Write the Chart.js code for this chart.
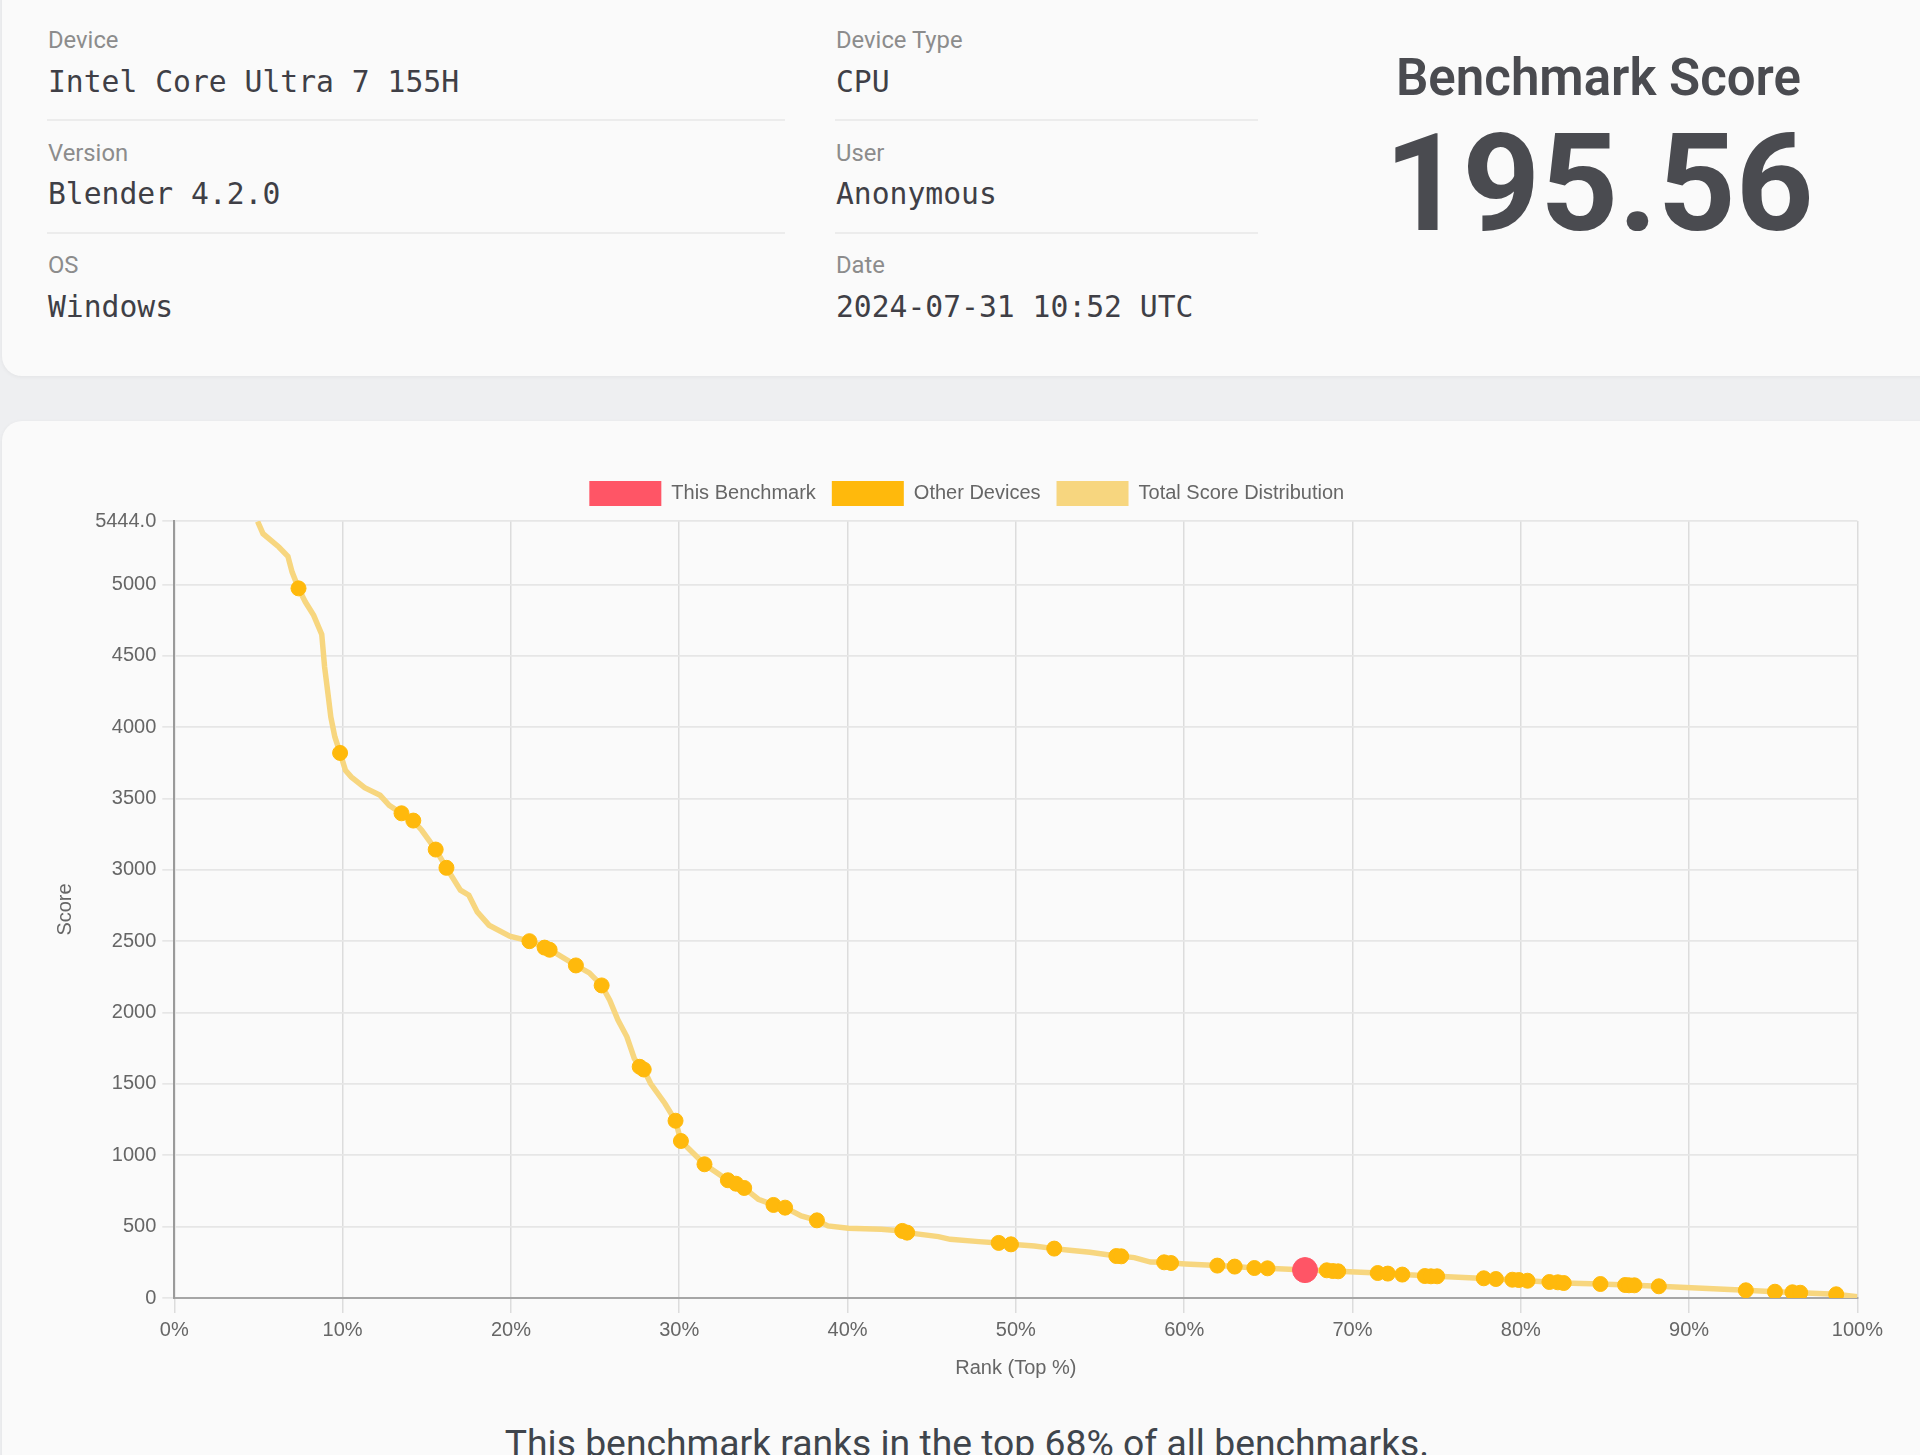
<!DOCTYPE html>
<html><head><meta charset="utf-8">
<script src="https://cdn.jsdelivr.net/npm/chart.js@4"></script>
<style>
html,body{margin:0;padding:0;width:1920px;height:1455px;overflow:hidden;background:#eeeff1}
.card{position:absolute;background:#fafafa;box-shadow:0 1px 4px rgba(0,0,0,.05)}
#c1{left:2px;top:-40px;width:1960px;height:416px;border-radius:20px}
#c2{left:2px;top:421px;width:1960px;height:1100px;border-radius:20px}
.t{position:absolute;white-space:nowrap;line-height:1}
.l{font:400 23.8px Roboto,sans-serif;color:#8c8c8c}
.v{font:400 29.7px "DejaVu Sans Mono",monospace;color:#3f3f46}
.hr{position:absolute;height:2px;background:#ececec}
canvas{position:absolute;left:48px;top:470px}
</style></head><body>
<div class="card" id="c1"></div><div class="card" id="c2"></div>
<div class="t l" style="left:48px;top:26px">Device</div>
<div class="t v" style="left:48px;top:64px">Intel Core Ultra 7 155H</div>
<div class="hr" style="left:47px;top:119px;width:738px"></div>
<div class="t l" style="left:48px;top:139px">Version</div>
<div class="t v" style="left:48px;top:176px">Blender 4.2.0</div>
<div class="hr" style="left:47px;top:232px;width:738px"></div>
<div class="t l" style="left:48px;top:251px">OS</div>
<div class="t v" style="left:48px;top:289px">Windows</div>
<div class="t l" style="left:836px;top:26px">Device Type</div>
<div class="t v" style="left:836px;top:64px">CPU</div>
<div class="hr" style="left:835px;top:119px;width:423px"></div>
<div class="t l" style="left:836px;top:139px">User</div>
<div class="t v" style="left:836px;top:176px">Anonymous</div>
<div class="hr" style="left:835px;top:232px;width:423px"></div>
<div class="t l" style="left:836px;top:251px">Date</div>
<div class="t v" style="left:836px;top:289px">2024-07-31 10:52 UTC</div>
<div class="t" style="left:1396px;width:402px;text-align:center;top:48px;font:600 51px Roboto,sans-serif;color:#4a4b50">Benchmark Score</div>
<div class="t" style="left:1349px;width:500px;text-align:center;top:102px;font:700 136px/1.2 Roboto,sans-serif;color:#4a4b50">195.56</div>
<div class="t" style="left:467px;width:1000px;text-align:center;top:1421px;font:400 37.3px/1.2 Roboto,sans-serif;color:#3f454c">This benchmark ranks in the top 68% of all benchmarks.</div>
<canvas id="chart" width="1840" height="913"></canvas>
<script>
const thisX=[67.18];
const thisY=[195.56];
const otherX=[7.38,9.85,13.5,14.2,15.53,16.17,21.1,22.0,22.3,23.86,25.39,27.65,27.89,29.78,30.1,31.5,32.89,33.37,33.86,35.6,36.29,38.18,43.25,43.54,48.98,49.71,52.28,55.97,56.26,58.81,59.22,61.97,63.0,64.17,64.95,68.47,68.83,69.15,71.5,72.1,72.96,74.3,74.66,75.03,77.8,78.52,79.5,79.88,80.4,81.7,82.2,82.55,84.73,86.2,86.43,86.75,88.2,93.37,95.1,96.14,96.6,98.74];
const otherY=[4972,3819,3396,3345,3142,3014,2500,2455,2440,2330,2190,1620,1601,1242,1100,937,825,801,771,652,633,544,470,458,386,376,346,294,292,250,245,227,220,210,208,194,189,187,175,171,164,154,152,152,138,133,128,126,121,112,110,105,98,91,89,89,82,54,44,40,37,26];
const distX=[4.95,5.27,6.21,6.75,7.0,7.38,7.79,8.28,8.76,8.93,9.13,9.3,9.54,9.85,10.17,10.51,11.31,12.23,12.77,13.5,14.2,14.7,15.53,16.17,17.0,17.5,18.0,18.7,19.93,21.1,22.2,23.86,24.66,25.39,25.87,26.36,26.89,27.33,27.65,27.89,28.3,29.15,29.78,30.1,31.5,32.89,33.37,33.86,34.7,35.6,36.29,37.25,38.18,38.83,40.05,42,43.25,43.54,45.4,46.1,47.8,48.98,49.71,51.1,52.28,53.2,54.4,55.97,56.26,57.04,58.0,58.81,59.22,60.07,61.97,63.0,64.17,64.95,67.18,68.83,71.5,72.96,75.03,78.52,80.4,82.55,84.73,86.75,88.2,93.37,95.1,96.6,98.74,100];
const distY=[5441,5355,5262,5196,5086,4972,4876,4783,4650,4421,4234,4071,3931,3819,3697,3651,3576,3522,3452,3396,3345,3277,3142,3014,2857,2822,2705,2612,2535,2500,2449,2330,2278,2190,2087,1947,1830,1678,1620,1601,1503,1363,1242,1100,937,825,801,771,692,652,633,575,544,505,488,481,470,458,430,411,395,386,376,364,346,334,320,294,292,283,252,250,245,238,227,220,210,208,196,189,175,164,152,133,121,105,98,89,82,54,44,37,26,9];
const yTicks=[0,500,1000,1500,2000,2500,3000,3500,4000,4500,5000,5444];
const xTicks=[0,10,20,30,40,50,60,70,80,90,100];
const seriesNames=["This Benchmark","Other Devices","Total Score Distribution"];
const zip=(a,b)=>a.map((x,i)=>({x,y:b[i]}));
const RED='#ff5566',AMB='#ffb90c',PALE='#f7d67f';
const FAM='"Liberation Sans",Arial,sans-serif';
const nudgeLegend={id:'nudgeLegend',afterLayout(c){const l=c.legend;l.left+=12;l.right+=12;l.top-=5;l.bottom-=5;}};
new Chart(document.getElementById('chart'),{
 type:'scatter',
 plugins:[nudgeLegend],
 data:{datasets:[
  {label:seriesNames[0],data:zip(thisX,thisY),backgroundColor:RED,borderColor:RED,pointRadius:12.5,showLine:false},
  {label:seriesNames[1],data:zip(otherX,otherY),backgroundColor:AMB,borderColor:AMB,pointRadius:7.5,showLine:false},
  {label:seriesNames[2],data:zip(distX,distY),backgroundColor:PALE,borderColor:PALE,borderWidth:5.5,pointRadius:0,showLine:true,tension:0}
 ]},
 options:{responsive:false,animation:false,devicePixelRatio:1,
  layout:{padding:{left:0,right:26.5,top:0,bottom:0}},
  plugins:{tooltip:{enabled:false},
   legend:{position:'top',labels:{boxWidth:72,boxHeight:25,padding:16,font:{size:20,family:FAM},color:'#666',
     generateLabels:c=>Chart.defaults.plugins.legend.labels.generateLabels(c).map(i=>({...i,lineWidth:0}))}}},
  scales:{
   x:{type:'linear',min:0,max:100,
    afterBuildTicks:s=>{s.ticks=xTicks.map(v=>({value:v}))},
    afterFit:s=>{s.height=85},
    border:{color:'#a6a6a6',width:2},
    grid:{color:'#dcdcdc',lineWidth:1.5,tickLength:15},
    ticks:{padding:5,maxRotation:0,color:'#666',font:{size:20,family:FAM},callback:v=>v+'%'},
    title:{display:true,text:'Rank (Top %)',color:'#666',padding:3,font:{size:20,family:FAM}}},
   y:{type:'linear',min:0,max:5444,
    afterBuildTicks:s=>{s.ticks=yTicks.map(v=>({value:v}))},
    afterFit:s=>{s.width=126.3},
    border:{color:'#9a9a9a',width:2},
    grid:{color:'#e6e6e6',lineWidth:1.7,tickLength:12},
    ticks:{padding:6,color:'#666',font:{size:20,family:FAM},callback:v=>v===5444?'5444.0':String(v)},
    title:{display:true,text:'Score',color:'#666',padding:5,font:{size:20,family:FAM}}}
  }
 }
});
</script>
</body></html>
